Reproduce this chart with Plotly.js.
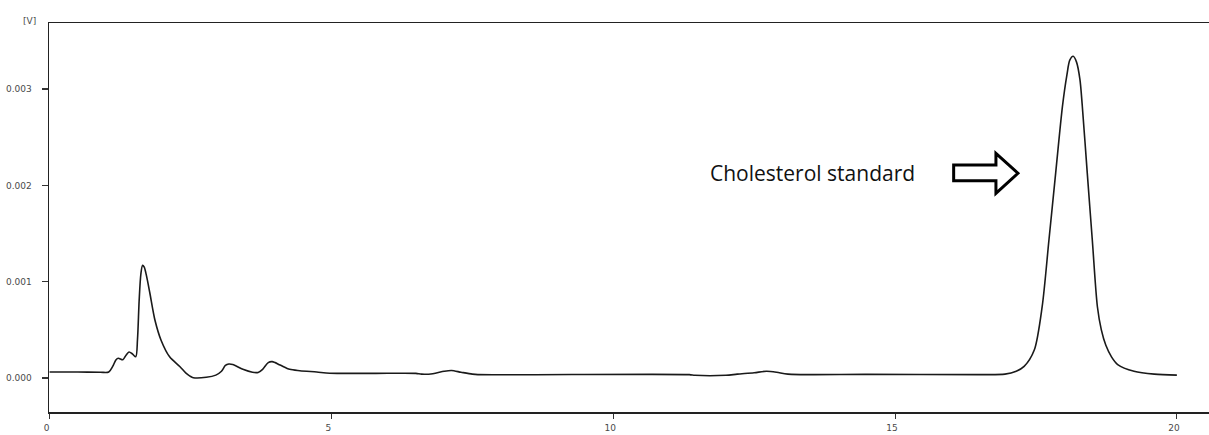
<!DOCTYPE html>
<html>
<head>
<meta charset="utf-8">
<script src="https://cdn.plot.ly/plotly-3.0.1.min.js"></script>
<style>html,body{margin:0;padding:0;background:#fff;}#chart{width:1209px;height:435px;}</style>
</head>
<body>
<div id="chart"></div>
<script>
// Retention time (min)
const timeMin = [0.0,0.5,0.9,1.05,1.12,1.18,1.22,1.30,1.36,1.41,1.47,1.53,1.56,1.59,1.62,1.65,1.68,1.72,1.78,1.87,1.98,2.13,2.31,2.42,2.49,2.55,2.78,2.95,3.05,3.12,3.18,3.25,3.43,3.60,3.70,3.78,3.88,3.95,4.09,4.26,4.44,4.74,4.97,5.6,6.0,6.5,6.6,6.8,7.0,7.13,7.3,7.5,7.6,11.35,11.45,12.0,12.2,12.5,12.72,12.9,13.1,14.5,16.5,16.95,17.15,17.29,17.47,17.61,17.73,17.85,17.97,18.05,18.10,18.16,18.22,18.28,18.32,18.41,18.50,18.59,18.66,18.74,18.84,18.95,19.24,19.6,20.0];
// Detector signal (V)
const signalV = [0.000062,0.000062,0.000060,0.000062,0.00012,0.00019,0.000205,0.00019,0.00024,0.00027,0.00025,0.00022,0.00040,0.00081,0.00108,0.00117,0.00115,0.00106,0.00088,0.00060,0.00039,0.00022,0.00012,0.00005,0.00002,0.000003,0.000007,0.00003,0.00007,0.00013,0.000145,0.00014,0.00009,0.00006,0.000058,0.00009,0.00016,0.00017,0.000135,0.00009,0.000076,0.000062,0.00005,0.000048,0.000049,0.000048,0.00004,0.000045,0.00007,0.000078,0.00006,0.00004,0.000035,0.000035,0.000028,0.000028,0.00004,0.000055,0.00007,0.00006,0.00004,0.000038,0.000035,0.00004,0.00007,0.00012,0.00029,0.00074,0.00143,0.00213,0.00282,0.00315,0.00330,0.00334,0.00328,0.00310,0.00284,0.00213,0.00143,0.00074,0.00050,0.00034,0.00022,0.00014,0.00007,0.00004,0.00003];
const xTicks = [0,5,10,15,20];
const xTickText = ['0','5','10','15','20'];
const yTicks = [0,0.001,0.002,0.003];
const yTickText = ['0.000','0.001','0.002','0.003'];
const unitLabel = '[V]';
const peakLabel = 'Cholesterol standard';

const tickFont = {family:'DejaVu Sans', size:9, color:'#4a4a4a'};

const trace = {
  x: timeMin, y: signalV, type:'scatter', mode:'lines',
  line:{color:'#1a1a1a', width:1.6, shape:'spline', smoothing:0.8},
  hoverinfo:'skip'
};

const layout = {
  width:1209, height:435,
  margin:{l:49, r:0, t:23, b:23, pad:0},
  paper_bgcolor:'#fff', plot_bgcolor:'#fff',
  showlegend:false,
  xaxis:{
    range:[-0.01,20.57], showgrid:false, zeroline:false,
    showline:true, linecolor:'#222', linewidth:1.5, mirror:true,
    ticks:'outside', ticklen:5, tickwidth:1, tickcolor:'#333',
    tickvals:xTicks, ticktext:xTickText, tickfont:tickFont,
    ticklabelshift:-3, ticklabelstandoff:2
  },
  yaxis:{
    range:[-0.000353,0.003686], showgrid:false, zeroline:false,
    showline:true, linecolor:'#222', linewidth:1.5,
    ticks:'outside', ticklen:6, tickwidth:1.2, tickcolor:'#333',
    tickvals:yTicks, ticktext:yTickText, tickfont:tickFont,
    ticklabelstandoff:8
  },
  annotations:[
    {text:unitLabel, xref:'paper', yref:'paper', x:-0.0172, y:1.005,
     xanchor:'center', yanchor:'middle', showarrow:false, font:tickFont},
    {text:peakLabel, xref:'x', yref:'y', x:11.69, y:0.002126,
     xanchor:'left', yanchor:'middle', showarrow:false,
     font:{family:'Open Sans', size:21, color:'#111'}}
  ],
  shapes:[
    {type:'path', xref:'x', yref:'y',
     path:'M 16.04,0.002212 L 16.79,0.002212 L 16.79,0.002333 L 17.18,0.002126 L 16.79,0.001918 L 16.79,0.002049 L 16.04,0.002049 Z',
     line:{color:'#000', width:3}, fillcolor:'#fff'}
  ]
};

Plotly.newPlot('chart', [trace], layout, {displayModeBar:false, staticPlot:true});
</script>
</body>
</html>
